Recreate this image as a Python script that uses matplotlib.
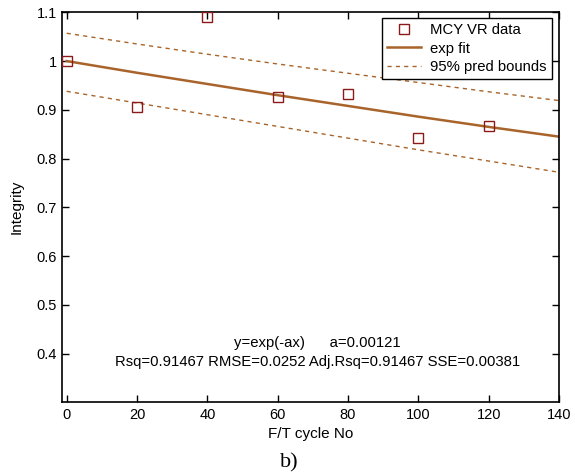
import matplotlib
matplotlib.use('Agg')
import matplotlib.pyplot as plt
import numpy as np

plt.rcParams['font.family'] = ['Liberation Sans', 'DejaVu Sans']

# measured data
cycles = [0, 20, 40, 60, 80, 100, 120]
integrity = [1.0, 0.905, 1.090, 0.927, 0.932, 0.842, 0.866]

# fitted curve and prediction bounds
fit_x = [0, 20, 40, 60, 80, 100, 120, 140]
fit_y = [1.0, 0.976, 0.953, 0.930, 0.908, 0.886, 0.865, 0.845]
upper = [1.057, 1.035, 1.014, 0.994, 0.975, 0.956, 0.937, 0.919]
lower = [0.938, 0.914, 0.890, 0.866, 0.842, 0.818, 0.795, 0.772]

xticks = [0, 20, 40, 60, 80, 100, 120, 140]
yticks = [0.4, 0.5, 0.6, 0.7, 0.8, 0.9, 1.0, 1.1]
yticklabels = ['0.4', '0.5', '0.6', '0.7', '0.8', '0.9', '1', '1.1']

fit_col = '#a8642a'
dat_col = '#8b1a1a'

fig = plt.figure(figsize=(5.75, 4.74), dpi=100)
ax = fig.add_axes([0.1083, 0.1519, 0.8639, 0.8222])

ax.plot(cycles, integrity, 's', ms=7.8, mfc='none', mec=dat_col, mew=1.0,
        label='MCY VR data', zorder=3)
ax.plot(fit_x, fit_y, '-', color=fit_col, lw=1.8, label='exp fit')
ax.plot(fit_x, upper, color=fit_col, lw=1, ls=(0, (3, 3)),
        label='95% pred bounds')
ax.plot(fit_x, lower, color=fit_col, lw=1, ls=(0, (3, 3)))

ax.set_xlim(-1.25, 140)
ax.set_ylim(0.301, 1.1)
ax.set_xticks(xticks)
ax.set_yticks(yticks)
ax.set_yticklabels(yticklabels)
ax.tick_params(direction='in', top=True, right=True, length=5,
               labelsize=10.5, width=1, pad=4)
for s in ax.spines.values():
    s.set_linewidth(1.2)

ax.set_xlabel('F/T cycle No', fontsize=11, labelpad=4)
ax.set_ylabel('Integrity', fontsize=11, labelpad=9)

ax.text(0.514, 0.151, 'y=exp(-ax)      a=0.00121', transform=ax.transAxes,
        ha='center', va='center', fontsize=10.7)
ax.text(0.514, 0.103,
        'Rsq=0.91467 RMSE=0.0252 Adj.Rsq=0.91467 SSE=0.00381',
        transform=ax.transAxes, ha='center', va='center', fontsize=10.7)

leg = ax.legend(loc='upper right', bbox_to_anchor=(0.9853, 0.9854),
                fontsize=10.7, fancybox=False, framealpha=1,
                edgecolor='black', borderpad=0.35, labelspacing=0.3,
                handlelength=2.3, handletextpad=0.6, borderaxespad=0)
leg.get_frame().set_linewidth(1.0)

fig.text(0.503, 0.023, 'b)', ha='center', va='center', fontsize=16,
         family='Liberation Serif')

fig.savefig('out.png', dpi=100)
